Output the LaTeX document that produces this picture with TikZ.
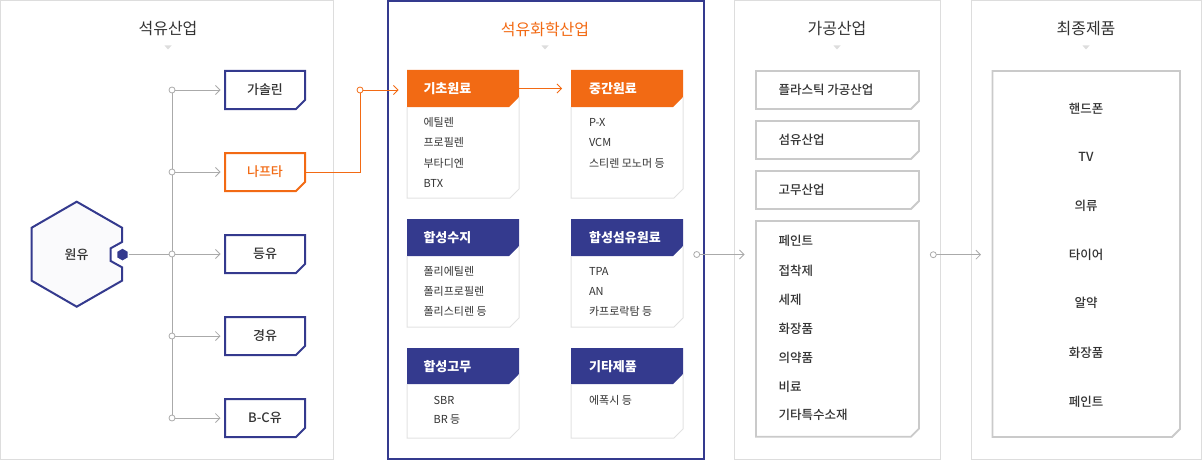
\documentclass[tikz,border=0pt]{standalone}
\usepackage{fontspec}
\setmainfont{Noto Sans CJK KR}
\newfontfamily\medfont{Noto Sans CJK KR Medium}
\usetikzlibrary{arrows.meta}
\definecolor{navy}{HTML}{343A8E}
\definecolor{orng}{HTML}{F26A14}
\definecolor{txt}{HTML}{333333}
\definecolor{pborder}{HTML}{DDDDDD}
\definecolor{bborder}{HTML}{CACACA}
\definecolor{lnk}{HTML}{AAAAAA}
\definecolor{cardline}{HTML}{E2E2E2}
\definecolor{hexfill}{HTML}{FAFAFC}
\newcommand\cutbox[6]{\draw[#1] (#2,#3) -- (#4,#3) -- (#4,#5-#6) -- (#4-#6,#5) -- (#2,#5) -- cycle;}
\newcommand\card[5]{%
  \fill[#1] (#2,#3) -- (#2+112,#3) -- (#2+112,#4-10) -- (#2+102,#4) -- (#2,#4) -- cycle;
  \draw[cardb] (#2,#4) -- (#2,#5) -- (#2+103,#5) -- (#2+112,#5-9) -- (#2+112,#4-10);}
\tikzset{
  panel/.style={draw=pborder, line width=1pt},
  ttl/.style={font=\fontsize{16}{18}\selectfont, text=txt},
  tri/.style={fill=pborder},
  lbox/.style={draw=navy, line width=2pt, fill=white},
  obox/.style={draw=orng, line width=2pt, fill=white},
  gbox/.style={draw=bborder, line width=1.8pt, fill=white},
  cardb/.style={draw=cardline, line width=1pt},
  lbl/.style={font=\medfont\fontsize{13}{15}\selectfont, text=txt},
  hd/.style={font=\bfseries\fontsize{13}{15}\selectfont, text=white, anchor=west},
  it/.style={font=\fontsize{11}{13}\selectfont, text=txt, anchor=west},
  gl/.style={font=\medfont\fontsize{12.5}{14}\selectfont, text=txt, anchor=west},
  fl/.style={font=\medfont\fontsize{12.5}{14}\selectfont, text=txt},
  link/.style={draw=lnk, line width=0.8pt},
  olink/.style={draw=orng, line width=0.9pt},
  tip/.style={-{Straight Barb[length=4.5pt,width=9pt,line width=0.8pt]}},
  dot/.style={circle, draw=lnk, fill=white, line width=0.8pt, inner sep=0pt, minimum size=6pt},
  odot/.style={circle, draw=orng, fill=white, line width=0.8pt, inner sep=0pt, minimum size=6pt},
}
\begin{document}
\begin{tikzpicture}[x=1pt,y=-1pt]
\useasboundingbox (0,0) rectangle (1202,460);
% panels
\draw[panel] (0.5,0.5) rectangle (333,459.5);
\draw[navy, line width=2pt] (388,1) rectangle (704,459);
\draw[panel] (734.5,0.5) rectangle (940.5,459.5);
\draw[panel] (971.5,0.5) rectangle (1201.5,459.5);
% titles
\node[ttl] (t1) at (168,29) {석유산업};
\node[ttl, text=orng] (t2) at (545,29) {석유화학산업};
\node[ttl] (t3) at (837,29) {가공산업};
\node[ttl] (t4) at (1086,29) {최종제품};
\foreach \x in {168,545,837,1086} \fill[tri] (\x-3.5,45.5) -- (\x+3.5,45.5) -- (\x,49.5) -- cycle;
% crude oil hexagon
\draw[navy, line width=2pt, fill=hexfill] (76.7,201.7) -- (122,227.7) -- (122,242) -- (110.7,248.3) -- (110.7,261) -- (122,267.3) -- (122,280.7) -- (76.7,306.7) -- (31.7,280.7) -- (31.7,227.7) -- cycle;
\node[lbl] (crude) at (76.7,254.5) {원유};
\coordinate (out) at (122.5,254.6);
\fill[navy] (out) +(90:5.8) -- +(150:5.8) -- +(210:5.8) -- +(270:5.8) -- +(330:5.8) -- +(30:5.8) -- cycle;
% trunk
\coordinate (jtop) at (172,90);
\coordinate (jbot) at (172,418);
\draw[link] (jtop) -- (jbot);
\draw[link] (out) ++(6,0) -- (172,254.6);
% product boxes
\cutbox{lbox}{225}{71}{305}{109}{9}
\cutbox{obox}{225}{153}{305}{191}{9}
\cutbox{lbox}{225}{235}{305}{273}{9}
\cutbox{lbox}{225}{317}{305}{355}{9}
\cutbox{lbox}{225}{399}{305}{437}{9}
\node[lbl] (gas) at (265,90) {가솔린};
\node[lbl, text=orng] (nap) at (265,172) {나프타};
\node[lbl] (ker) at (265,254) {등유};
\node[lbl] (dsl) at (265,336) {경유};
\node[lbl] (bc) at (265,418) {B-C유};
\foreach \y/\n in {90/a,172/b,254/c,336/d,418/e}{
  \coordinate (e\n) at (220.5,\y);
  \draw[link, tip] (172,\y) -- (e\n);
  \node[dot] (j\n) at (172,\y) {};
}
% naphtha to basic materials
\coordinate (nr) at (306,172);
\coordinate (bend) at (360,172);
\coordinate (ku) at (360,90);
\coordinate (kin) at (398.5,90);
\draw[olink] (nr) -- (bend) -- (ku);
\draw[olink, tip] (ku) -- (kin);
\node[odot] (kdot) at (ku) {};
% cards
\card{orng}{407}{70}{107}{198}
\card{orng}{571}{70}{107}{198}
\card{navy}{407}{219}{256}{327}
\card{navy}{571}{219}{256}{327}
\card{navy}{407}{348}{384}{438}
\card{navy}{571}{348}{384}{438}
\node[hd] (h1) at (420,88.5) {기초원료};
\node[hd] (h2) at (585.5,88.5) {중간원료};
\node[hd] (h3) at (420,237.5) {합성수지};
\node[hd] (h4) at (585.5,237.5) {합성섬유원료};
\node[hd] (h5) at (420,366.5) {합성고무};
\node[hd] (h6) at (585.5,366.5) {기타제품};
\coordinate (k1r) at (519,88.5);
\coordinate (k2l) at (562,88.5);
\draw[olink, tip] (k1r) -- (k2l);
% card items
\node[it] (i11) at (420,122.7) {에틸렌};
\node[it] (i12) at (420,142.7) {프로필렌};
\node[it] (i13) at (420,163) {부타디엔};
\node[it] (i14) at (420,183.3) {BTX};
\node[it] (i21) at (585.5,122.7) {P-X};
\node[it] (i22) at (585.5,142.7) {VCM};
\node[it] (i23) at (585.5,163) {스티렌 모노머 등};
\node[it] (i31) at (420,271.7) {폴리에틸렌};
\node[it] (i32) at (420,291.7) {폴리프로필렌};
\node[it] (i33) at (420,311.7) {폴리스티렌 등};
\node[it] (i41) at (585.5,271.7) {TPA};
\node[it] (i42) at (585.5,291.7) {AN};
\node[it] (i43) at (585.5,311.7) {카프로락탐 등};
\node[it] (i51) at (430,400) {SBR};
\node[it] (i52) at (430,420) {BR 등};
\node[it] (i61) at (585.5,400) {에폭시 등};
% petrochem to processing
\coordinate (p1) at (696.7,254.5);
\coordinate (p2) at (744.5,254.5);
\draw[link, tip] (p1) -- (p2);
\node[dot] (pd) at (p1) {};
% processing boxes
\cutbox{gbox}{756}{71}{919}{109}{8}
\cutbox{gbox}{756}{121}{919}{159}{8}
\cutbox{gbox}{756}{171}{919}{209}{8}
\cutbox{gbox}{756}{221}{919}{436.7}{8}
\node[gl] (g1) at (775,90) {플라스틱 가공산업};
\node[gl] (g2) at (775,140) {섬유산업};
\node[gl] (g3) at (775,190) {고무산업};
\foreach \y/\t [count=\i] in {240.7/페인트,270.7/접착제,300/세제,329.3/화장품,358.3/의약품,386.7/비료,415/기타특수소재}
  \node[gl] (m\i) at (775,\y) {\t};
% processing to final
\coordinate (q1) at (933.3,254.7);
\coordinate (q2) at (981,254.7);
\draw[link, tip] (q1) -- (q2);
\node[dot] (qd) at (q1) {};
% final products
\cutbox{gbox}{992.5}{71}{1180}{437}{8}
\foreach \y/\t [count=\i] in {108.3/핸드폰,156.7/TV,206/의류,255/타이어,303.3/알약,352.7/화장품,401.7/페인트}
  \node[fl] (f\i) at (1086,\y) {\t};
\end{tikzpicture}
\end{document}
